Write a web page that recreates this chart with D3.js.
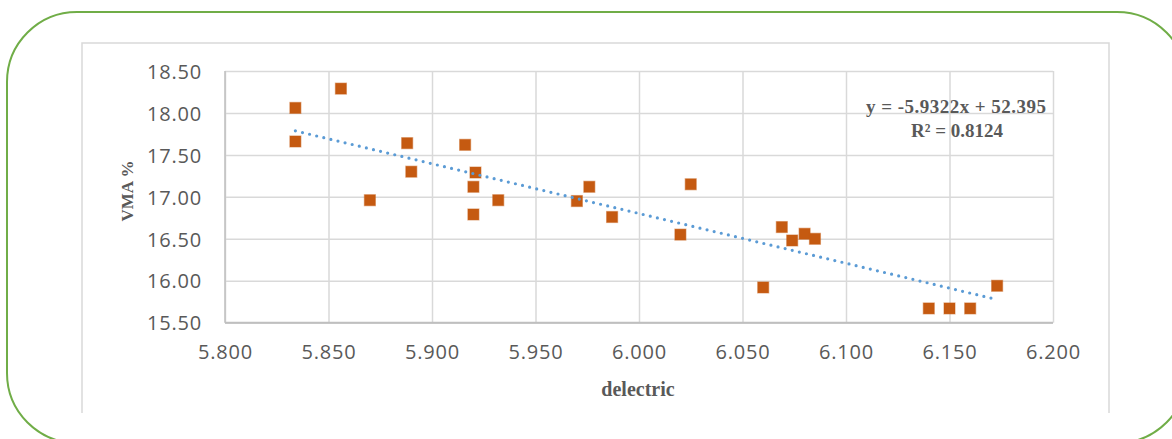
<!DOCTYPE html>
<html>
<head>
<meta charset="utf-8">
<script src="https://cdn.jsdelivr.net/npm/d3@7"></script>
<style>
  html, body { margin: 0; padding: 0; background: #fff; }
  svg { display: block; }
  .tick text { font-family: "Open Sans", sans-serif; font-size: 20px; letter-spacing: 0.8px; fill: #595959; }
  .axis-title, .trend-label { font-family: "Liberation Serif", "Times New Roman", serif; font-weight: bold; fill: #595959; }
</style>
</head>
<body>
<div id="chart"></div>
<script>
"use strict";

// dielectric vs VMA readings
var dielectric = [5.834, 5.834, 5.856, 5.870, 5.888, 5.890, 5.916, 5.921, 5.920, 5.920, 5.932,
  5.970, 5.976, 5.987, 6.020, 6.025, 6.060, 6.069, 6.074, 6.080, 6.085, 6.140, 6.150, 6.160, 6.173];
var vma = [18.06, 17.66, 18.29, 16.96, 17.64, 17.30, 17.62, 17.29, 17.12, 16.79, 16.96,
  16.95, 17.12, 16.76, 16.55, 17.15, 15.92, 16.64, 16.48, 16.56, 16.50, 15.67, 15.67, 15.67, 15.94];
var xTicks = [5.80, 5.85, 5.90, 5.95, 6.00, 6.05, 6.10, 6.15, 6.20];
var yTicks = [15.5, 16.0, 16.5, 17.0, 17.5, 18.0, 18.5];
var slope = -5.9322;
var intercept = 52.395;
var rSquared = 0.8124;

var W = 1172, H = 439;
var margin = { top: 71, right: 119, bottom: 116.3, left: 225 };
var width = W - margin.left - margin.right;
var height = H - margin.top - margin.bottom;

var svg = d3.select('#chart').append('svg').attr('width', W).attr('height', H);

// green rounded frame
svg.append('rect')
  .attr('x', 7).attr('y', 12).attr('width', 1180).attr('height', 431)
  .attr('rx', 70).attr('ry', 70)
  .attr('fill', 'none').attr('stroke', '#70ad47').attr('stroke-width', 2);

// chart area border
svg.append('path')
  .attr('d', 'M82,413V43H1109V413')
  .attr('fill', 'none').attr('stroke', '#d9d9d9').attr('stroke-width', 1.5);

var g = svg.append('g').attr('transform', 'translate(' + margin.left + ',' + margin.top + ')');

var x = d3.scaleLinear().domain([5.8, 6.2]).range([0, width]);
var y = d3.scaleLinear().domain([15.5, 18.5]).range([height, 0]);

// gridlines + tick labels
var xAxis = g.append('g').attr('transform', 'translate(0,' + height + ')')
  .call(d3.axisBottom(x).tickValues(xTicks).tickFormat(d3.format('.3f')).tickSize(-height).tickPadding(22));
var yAxis = g.append('g')
  .call(d3.axisLeft(y).tickValues(yTicks).tickFormat(d3.format('.2f')).tickSize(-width).tickPadding(23));

[xAxis, yAxis].forEach(function (a) {
  a.select('.domain').remove();
  a.selectAll('.tick line').attr('stroke', '#d9d9d9').attr('stroke-width', 1.5);
});
yAxis.selectAll('.tick text').attr('dy', '0.36em');

// axis lines
g.append('line').attr('x1', 0).attr('x2', 0).attr('y1', 0).attr('y2', height)
  .attr('stroke', '#bfbfbf').attr('stroke-width', 1.5);
g.append('line').attr('x1', 0).attr('x2', width).attr('y1', height).attr('y2', height)
  .attr('stroke', '#bfbfbf').attr('stroke-width', 2);

// markers
var points = dielectric.map(function (d, i) { return { x: d, y: vma[i] }; });
var SIZE = 11;
g.append('g').selectAll('rect').data(points).enter().append('rect')
  .attr('x', function (d) { return x(d.x) - SIZE / 2; })
  .attr('y', function (d) { return y(d.y) - SIZE / 2; })
  .attr('width', SIZE).attr('height', SIZE)
  .attr('fill', '#c55a11')
  .attr('stroke', '#c55a11').attr('stroke-opacity', 0.45).attr('stroke-width', 1.2);

// linear trendline
var xMin = d3.min(dielectric), xMax = d3.max(dielectric);
var trend = [xMin, xMax].map(function (v) { return { x: v, y: slope * v + intercept }; });
g.append('path')
  .datum(trend)
  .attr('d', d3.line().x(function (d) { return x(d.x); }).y(function (d) { return y(d.y); }))
  .attr('fill', 'none').attr('stroke', '#5b9bd5').attr('stroke-width', 3.2)
  .attr('stroke-linecap', 'round').attr('stroke-dasharray', '0,7.3');

// trendline label
var label = svg.append('text').attr('class', 'trend-label')
  .attr('text-anchor', 'middle').attr('font-size', 19);
label.append('tspan').attr('x', 956).attr('y', 113)
  .attr('textLength', 180).attr('lengthAdjust', 'spacing')
  .text('y = ' + slope + 'x + ' + intercept);
label.append('tspan').attr('x', 957).attr('y', 137)
  .text('R² = ' + rSquared);

// axis titles
svg.append('text').attr('class', 'axis-title')
  .attr('font-size', 17).attr('text-anchor', 'middle')
  .attr('transform', 'translate(133,191) rotate(-90)')
  .text('VMA %');
svg.append('text').attr('class', 'axis-title')
  .attr('font-size', 20).attr('text-anchor', 'middle')
  .attr('x', 638).attr('y', 396)
  .text('delectric');
</script>
</body>
</html>
